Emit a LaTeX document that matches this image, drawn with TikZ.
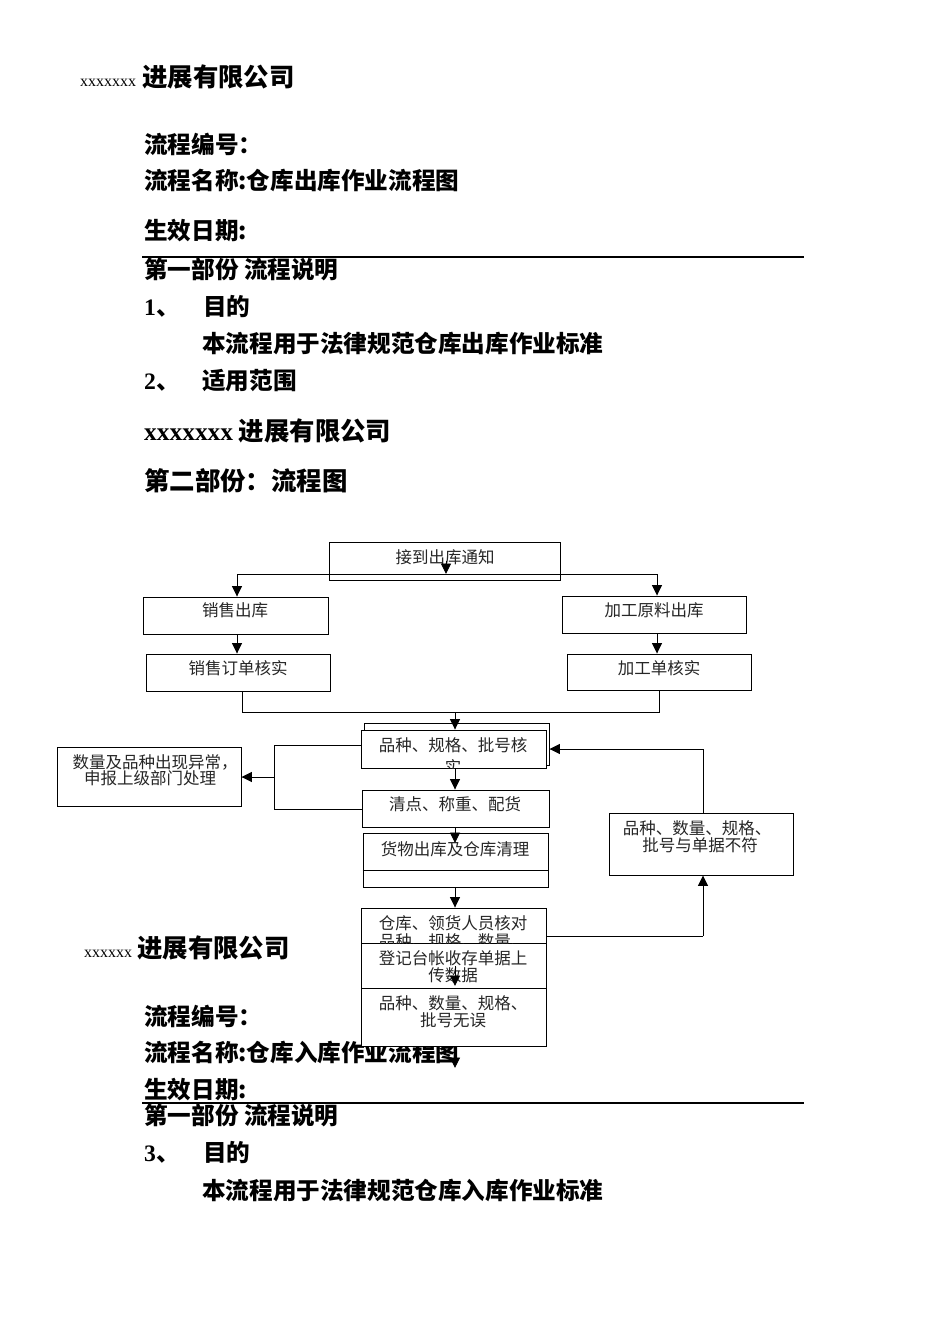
\documentclass[tikz,border=0pt]{standalone}
\usepackage{fontspec}
\setmainfont{Liberation Serif}
\newfontfamily\cjk{Noto Sans CJK SC}
\usetikzlibrary{arrows.meta}
\begin{document}
\begin{tikzpicture}[x=1pt,y=-1pt,
  box/.style={draw,fill=white,line width=0.9pt,inner sep=0pt},
  btxt/.style={font=\cjk\fontsize{16.5}{17}\selectfont,inner sep=0pt,text=black!85},
  head/.style={font=\cjk\bfseries\fontsize{23.6}{25}\selectfont,anchor=base west,inner sep=0pt},
  big/.style={font=\cjk\bfseries\fontsize{25.4}{27}\selectfont,anchor=base west,inner sep=0pt},
  small/.style={font=\fontsize{16}{18}\selectfont,anchor=base west,inner sep=0pt},
  arr/.style={line width=0.9pt,-{Triangle[length=10.5pt,width=10pt]}},
  ln/.style={line width=0.9pt},
  rule/.style={line width=1.3pt}]
\useasboundingbox (0,0) rectangle (950,1344);
\fill[white] (0,0) rectangle (950,1344);

% ---------- page header 1 ----------
\node[small] (c1x) at (80,86.5) {xxxxxxx};
\node[big] (c1) at (142,86.5) {进展有限公司};
\node[head] (h1) at (144,153.5) {流程编号：};
\node[head] (h2) at (144,189.5) {流程名称:仓库出库作业流程图};
\node[head] (h3) at (144,239.5) {生效日期:};
\coordinate (r1a) at (142,257);
\coordinate (r1b) at (804,257);
\draw[rule] (r1a) -- (r1b);
\node[head] (h4) at (144,278.5) {第一部份 流程说明};
\node[head] (h5) at (144,315.5) {{\rmfamily 1}、};
\node[head] (h5b) at (203,315.5) {目的};
\node[head] (h6) at (202,352.5) {本流程用于法律规范仓库出库作业标准};
\node[head] (h7) at (144,389.5) {{\rmfamily 2}、};
\node[head] (h7b) at (202,389.5) {适用范围};
\node[big] (h8) at (144,440) {{\rmfamily xxxxxxx} 进展有限公司};
\node[big] (h9) at (144,490) {第二部份：流程图};

% ---------- page header 2 ----------
\node[small] (c2x) at (84,957) {xxxxxx};
\node[big] (c2) at (137,957) {进展有限公司};
\node[head] (g1) at (144,1025.5) {流程编号：};
\node[head] (g2) at (144,1061.5) {流程名称:仓库入库作业流程图};
\node[head] (g3) at (144,1098.5) {生效日期:};
\coordinate (r2a) at (142,1103);
\coordinate (r2b) at (804,1103);
\draw[rule] (r2a) -- (r2b);
\node[head] (g4) at (144,1124.5) {第一部份 流程说明};
\node[head] (g5) at (144,1161.5) {{\rmfamily 3}、};
\node[head] (g5b) at (203,1161.5) {目的};
\node[head] (g6) at (202,1199.5) {本流程用于法律规范仓库入库作业标准};

% ---------- boxes ----------
\node[box,draw=none,fill=none,minimum width=230pt,minimum height=37pt] (tz) at (445,561.5) {};
\node[box,minimum width=185pt,minimum height=37pt] (xs) at (235.5,615.5) {};
\node[box,minimum width=184pt,minimum height=37pt] (xsd) at (238,672.5) {};
\node[box,minimum width=184pt,minimum height=37pt] (jg) at (654,614.5) {};
\node[box,minimum width=184pt,minimum height=36pt] (jgd) at (659,672) {};
\node[box,minimum width=185pt,minimum height=42pt] (hsb) at (456.5,744) {};
\node[box,minimum width=185pt,minimum height=38pt] (hs) at (453.5,749) {};
\node[box,minimum width=187pt,minimum height=37pt] (qd) at (455.5,808.5) {};
\node[box,minimum width=185pt,minimum height=54pt] (hw) at (455.5,860) {};
\node[box,minimum width=185pt,minimum height=35pt] (hd) at (453.5,925.5) {};
\node[box,minimum width=185pt,minimum height=45pt] (dj) at (453.5,965.5) {};
\node[box,minimum width=185pt,minimum height=58pt] (wx) at (453.5,1017) {};
\node[box,minimum width=184pt,minimum height=59pt] (yc) at (149,776.5) {};
\node[box,minimum width=184pt,minimum height=62pt] (bf) at (701,844) {};

% ---------- box texts ----------
\node[btxt] (tzt) at (445,557) {接到出库通知};
\node[btxt] (xst) at (235,610) {销售出库};
\node[btxt] (xsdt) at (238,668) {销售订单核实};
\node[btxt] (jgt) at (654,610) {加工原料出库};
\node[btxt] (jgdt) at (659,668) {加工单核实};
\begin{scope}
  \clip (hs.south west) rectangle (hs.north east);
  \node[btxt] (hst1) at (453,745) {品种、规格、批号核};
  \node[btxt] (hst2) at (453,767) {实};
\end{scope}
\node[btxt] (qdt) at (455,804) {清点、称重、配货};
\node[btxt] (hwt) at (455,849) {货物出库及仓库清理};
\begin{scope}
  \clip (hd.south west) rectangle (hd.north east);
  \node[btxt] (hdt1) at (453,923) {仓库、领货人员核对};
  \node[btxt] (hdt2) at (453,941) {品种、规格、数量、};
\end{scope}
\node[btxt] (djt1) at (453,958) {登记台帐收存单据上};
\node[btxt] (djt2) at (453,975) {传数据};
\node[btxt] (wxt1) at (453,1003) {品种、数量、规格、};
\node[btxt] (wxt2) at (453,1020) {批号无误};
\node[btxt] (yct1) at (155,762) {数量及品种出现异常，};
\node[btxt] (yct2) at (150,778) {申报上级部门处理};
\node[btxt] (bft1) at (697,828) {品种、数量、规格、};
\node[btxt] (bft2) at (700,845) {批号与单据不符};

% the first box outline (drawn over the crossing line)
\draw[ln] (tz.south west) rectangle (tz.north east);

% ---------- connectors ----------
\coordinate (s0) at (446,561);
\coordinate (j0) at (446,574);
\coordinate (jl) at (237,574);
\coordinate (jr) at (657,574);
\draw[ln] (jl) -- (jr);
\draw[arr] (s0) -- (j0);
\draw[arr] (jl) -- (jl |- xs.north);
\draw[arr] (jr) -- (jr |- jg.north);
\draw[arr] (xs.south -| jl) -- (xsd.north -| jl);
\draw[arr] (jg.south -| jr) -- (jgd.north -| jr);

\coordinate (ml) at (242,712);
\coordinate (mr) at (659,712);
\coordinate (mc) at (455,712);
\draw[ln] (xsd.south -| ml) -- (ml) -- (mr) -- (jgd.south -| mr);
\draw[arr] (mc) -- (mc |- hs.north);
\draw[arr] (hs.south -| mc) -- (qd.north -| mc);
\coordinate (a3) at (455,843);
\draw[arr] (qd.south -| mc) -- (a3);
\draw[ln] (hw.west |- 0,870) -- (hw.east |- 0,870);
\draw[arr] (hw.south -| mc) -- (hd.north -| mc);
\coordinate (a5s) at (455,966);
\coordinate (a5e) at (455,986);
\draw[arr] (a5s) -- (a5e);
\coordinate (a6) at (455,1068);
\draw[arr] (wx.south -| mc) -- (a6);

% left bracket
\coordinate (lt) at (274,745);
\coordinate (lb) at (274,809);
\coordinate (lm) at (274,777);
\draw[ln] (hs.west |- lt) -- (lt) -- (lb) -- (qd.west |- lb);
\draw[arr] (lm) -- (yc.east |- lm);

% right loop
\coordinate (rb) at (703,936);
\coordinate (rt) at (703,749);
\draw[ln] (hd.east |- rb) -- (rb);
\draw[arr] (rb) -- (bf.south -| rb);
\draw[ln] (bf.north -| rt) -- (rt);
\draw[arr] (rt) -- (hsb.east |- rt);
\end{tikzpicture}
\end{document}
